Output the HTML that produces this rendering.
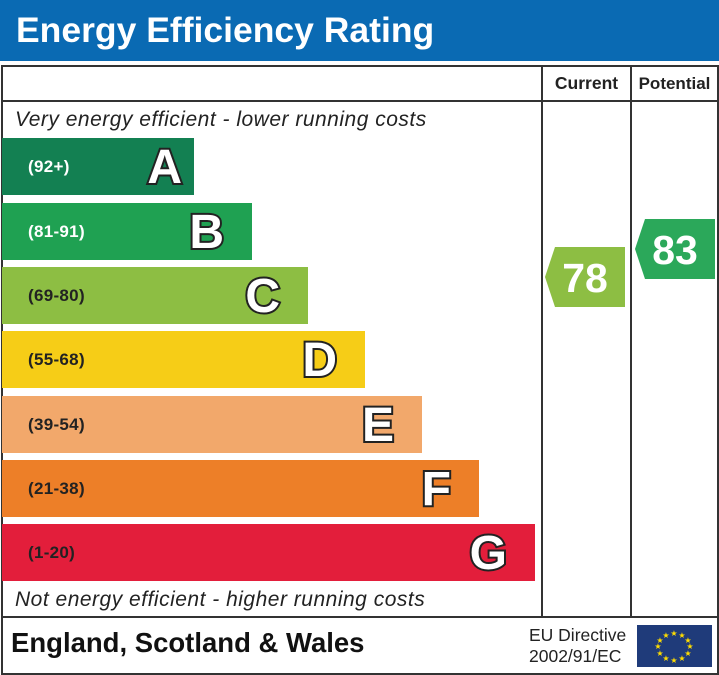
<!DOCTYPE html>
<html><head><meta charset="utf-8"><style>
body{margin:0;width:719px;height:675px;background:#fff;position:relative;font-family:"Liberation Sans",sans-serif;overflow:hidden}
.abs{position:absolute}
.bar{position:absolute;left:2px;height:57px;}
.rng{position:absolute;left:26px;top:0;line-height:57px;color:#fff;font-weight:bold;font-size:17px;letter-spacing:0.3px}
.let{position:absolute;right:28px;top:1px;line-height:57px;color:#fff;font-weight:bold;font-size:48px;-webkit-text-stroke:4px #222;paint-order:stroke fill}
</style></head><body>
<div class="abs" style="left:0;top:0;width:719px;height:61px;background:#0a6ab3"></div>
<div class="abs" style="left:16px;top:7px;color:#fff;font-weight:bold;font-size:35.5px;line-height:46px">Energy Efficiency Rating</div>
<div class="abs" style="left:1px;top:65px;width:714px;height:606px;border:2px solid #333"></div>
<div class="abs" style="left:1px;top:100px;width:716px;height:2px;background:#333"></div>
<div class="abs" style="left:1px;top:616px;width:716px;height:2px;background:#333"></div>
<div class="abs" style="left:541px;top:65px;width:2px;height:552px;background:#333"></div>
<div class="abs" style="left:630px;top:65px;width:2px;height:552px;background:#333"></div>
<div class="abs" style="left:543px;top:66px;width:87px;line-height:35px;text-align:center;font-weight:bold;font-size:17.5px;color:#222">Current</div>
<div class="abs" style="left:632px;top:66px;width:85px;line-height:35px;text-align:center;font-weight:bold;font-size:17px;color:#222">Potential</div>
<div class="abs" style="left:15px;top:108px;font-style:italic;font-size:21px;letter-spacing:0.5px;color:#222">Very energy efficient - lower running costs</div>
<div class="abs" style="left:15px;top:588px;font-style:italic;font-size:21px;letter-spacing:0.5px;color:#222">Not energy efficient - higher running costs</div>
<div class="bar" style="top:138px;width:192px;background:#138052"><span class="rng">(92+)</span><span class="let" style="right:12px">A</span></div>
<div class="bar" style="top:203px;width:250px;background:#1fa152"><span class="rng">(81-91)</span><span class="let">B</span></div>
<div class="bar" style="top:267px;width:306px;background:#8dbe43"><span class="rng" style="color:#222">(69-80)</span><span class="let">C</span></div>
<div class="bar" style="top:331px;width:363px;background:#f6cd17"><span class="rng" style="color:#222">(55-68)</span><span class="let">D</span></div>
<div class="bar" style="top:396px;width:420px;background:#f2a86b"><span class="rng" style="color:#222">(39-54)</span><span class="let">E</span></div>
<div class="bar" style="top:460px;width:477px;background:#ed7f28"><span class="rng" style="color:#222">(21-38)</span><span class="let">F</span></div>
<div class="bar" style="top:524px;width:533px;background:#e31e3b"><span class="rng" style="color:#222">(1-20)</span><span class="let">G</span></div>
<svg class="abs" style="left:0;top:0" width="719" height="675">
<polygon points="555,247 625,247 625,307 555,307 545,277" fill="#8dbe43"/>
<polygon points="645,219 715,219 715,279 645,279 635,249" fill="#2ba85a"/>
<text x="585" y="292" text-anchor="middle" font-family="Liberation Sans" font-weight="bold" font-size="41" fill="#fff">78</text>
<text x="675" y="264" text-anchor="middle" font-family="Liberation Sans" font-weight="bold" font-size="41" fill="#fff">83</text>
<rect x="637" y="625" width="75" height="42" fill="#1f3b7a"/>
<g fill="#ffdd00" font-size="8" text-anchor="middle" font-family="DejaVu Sans">
<text x="674" y="636">★</text><text x="682" y="638">★</text><text x="688" y="643">★</text><text x="690" y="649">★</text><text x="688" y="656">★</text><text x="682" y="661">★</text><text x="674" y="663">★</text><text x="666" y="661">★</text><text x="660" y="656">★</text><text x="658" y="649">★</text><text x="660" y="643">★</text><text x="666" y="638">★</text>
</g>
</svg>
<div class="abs" style="left:11px;top:627px;font-weight:bold;font-size:27.5px;line-height:32px;color:#111">England, Scotland &amp; Wales</div>
<div class="abs" style="left:529px;top:625px;font-size:17.5px;line-height:21px;color:#222">EU Directive<br>2002/91/EC</div>
</body></html>
